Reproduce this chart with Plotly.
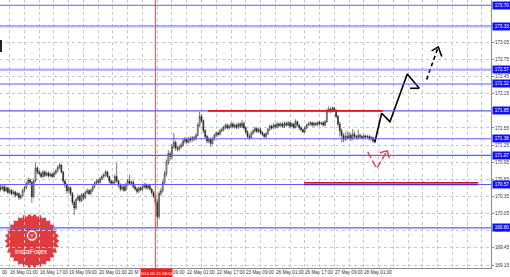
import numpy as np
import plotly.graph_objects as go

# ---------------- data (H1 candles) ----------------
first_open = 170.50
closes = [
    170.48, 170.52, 170.45, 170.50, 170.42, 170.46, 170.40, 170.43, 170.37, 170.40,
    170.33, 170.36, 170.45, 170.50, 170.58, 170.64, 170.60, 170.35, 170.62, 170.85,
    170.78, 170.75, 170.70, 170.78, 170.72, 170.76, 170.71, 170.74, 170.70, 170.76,
    170.80, 170.86, 170.90, 170.78, 170.62, 170.55, 170.45, 170.50, 170.40, 170.25,
    170.15, 170.30, 170.35, 170.28, 170.38, 170.33, 170.42, 170.45, 170.40, 170.46,
    170.52, 170.58, 170.62, 170.60, 170.66, 170.70, 170.73, 170.78, 170.70, 170.62,
    170.58, 170.60, 170.70, 170.62, 170.55, 170.48, 170.52, 170.46, 170.56, 170.62,
    170.58, 170.60, 170.52, 170.48, 170.44, 170.50, 170.47, 170.52, 170.56, 170.50,
    170.54, 170.48, 170.42, 170.36, 170.25, 170.00, 170.40, 170.45, 170.60, 170.75,
    170.95, 171.10, 171.05, 171.22, 171.30, 171.20, 171.18, 171.22, 171.25, 171.32,
    171.35, 171.30, 171.36, 171.34, 171.38, 171.36, 171.42, 171.60, 171.75, 171.68,
    171.50, 171.40, 171.32, 171.35, 171.28, 171.36, 171.42, 171.46, 171.44, 171.50,
    171.52, 171.56, 171.60, 171.55, 171.58, 171.62, 171.57, 171.60, 171.56, 171.62,
    171.58, 171.63, 171.55, 171.48, 171.40, 171.38, 171.46, 171.50, 171.54, 171.49,
    171.52, 171.47, 171.44, 171.40, 171.45, 171.52, 171.58, 171.55, 171.60, 171.57,
    171.62, 171.59, 171.62, 171.58, 171.63, 171.60, 171.64, 171.58, 171.62, 171.56,
    171.66, 171.60, 171.55, 171.52, 171.48, 171.55, 171.60, 171.62, 171.64, 171.60,
    171.63, 171.61, 171.65, 171.62, 171.64, 171.60, 171.66, 171.85, 171.88, 171.84,
    171.90, 171.86, 171.75, 171.62, 171.50, 171.42, 171.35, 171.40, 171.38, 171.42,
    171.36, 171.44, 171.40, 171.38, 171.42, 171.40, 171.38, 171.41, 171.39, 171.40,
    171.36, 171.38, 171.32, 171.33,
]
highs = [
    170.55, 170.56, 170.55, 170.53, 170.52, 170.49, 170.48, 170.46, 170.45, 170.43,
    170.42, 170.39, 170.48, 170.53, 170.61, 170.68, 170.67, 170.62, 170.66, 170.95,
    170.88, 170.81, 170.78, 170.81, 170.81, 170.79, 170.79, 170.77, 170.77, 170.79,
    170.83, 170.89, 170.94, 170.92, 170.80, 170.65, 170.58, 170.53, 170.53, 170.43,
    170.28, 170.33, 170.39, 170.38, 170.41, 170.41, 170.45, 170.49, 170.48, 170.49,
    170.55, 170.61, 170.65, 170.66, 170.69, 170.73, 170.76, 170.81, 170.80, 170.72,
    170.65, 170.63, 170.74, 170.94, 170.65, 170.58, 170.55, 170.55, 170.59, 170.66,
    170.73, 170.63, 170.63, 170.55, 170.51, 170.53, 170.53, 170.55, 170.59, 170.58,
    170.57, 170.57, 170.50, 170.45, 170.40, 170.30, 170.44, 170.50, 170.64, 170.80,
    171.00, 171.16, 171.14, 171.27, 171.46, 171.33, 171.24, 171.26, 171.29, 171.36,
    171.39, 171.38, 171.39, 171.40, 171.41, 171.41, 171.46, 171.64, 171.83, 171.79,
    171.70, 171.53, 171.43, 171.39, 171.38, 171.39, 171.45, 171.49, 171.49, 171.53,
    171.56, 171.59, 171.63, 171.63, 171.61, 171.65, 171.65, 171.63, 171.63, 171.65,
    171.65, 171.69, 171.66, 171.58, 171.51, 171.44, 171.49, 171.53, 171.57, 171.57,
    171.55, 171.55, 171.50, 171.46, 171.48, 171.55, 171.61, 171.61, 171.63, 171.63,
    171.65, 171.65, 171.65, 171.65, 171.66, 171.66, 171.67, 171.66, 171.65, 171.64,
    171.70, 171.68, 171.62, 171.58, 171.54, 171.58, 171.63, 171.65, 171.67, 171.66,
    171.66, 171.65, 171.67, 171.67, 171.66, 171.67, 171.69, 171.89, 171.93, 171.91,
    171.93, 171.92, 171.88, 171.78, 171.66, 171.54, 171.46, 171.47, 171.50, 171.48,
    171.46, 171.53, 171.49, 171.43, 171.52, 171.45, 171.43, 171.44, 171.43, 171.43,
    171.43, 171.41, 171.40, 171.37,
]
lows = [
    170.44, 170.46, 170.42, 170.43, 170.39, 170.40, 170.37, 170.38, 170.33, 170.35,
    170.29, 170.30, 170.34, 170.43, 170.48, 170.55, 170.57, 170.24, 170.32, 170.60,
    170.74, 170.72, 170.67, 170.68, 170.69, 170.70, 170.68, 170.69, 170.67, 170.68,
    170.73, 170.77, 170.83, 170.75, 170.58, 170.50, 170.40, 170.42, 170.36, 170.20,
    170.03, 170.12, 170.27, 170.24, 170.25, 170.29, 170.30, 170.39, 170.37, 170.38,
    170.43, 170.49, 170.55, 170.57, 170.57, 170.63, 170.67, 170.70, 170.67, 170.58,
    170.55, 170.55, 170.57, 170.59, 170.51, 170.44, 170.45, 170.43, 170.44, 170.53,
    170.55, 170.55, 170.49, 170.45, 170.40, 170.41, 170.44, 170.44, 170.49, 170.47,
    170.47, 170.45, 170.38, 170.32, 170.20, 169.80, 169.95, 170.36, 170.42, 170.56,
    170.70, 170.90, 170.98, 171.00, 171.18, 171.15, 171.14, 171.15, 171.19, 171.22,
    171.28, 171.27, 171.28, 171.30, 171.31, 171.32, 171.33, 171.40, 171.57, 171.64,
    171.46, 171.36, 171.28, 171.28, 171.22, 171.26, 171.33, 171.39, 171.40, 171.42,
    171.47, 171.49, 171.53, 171.52, 171.52, 171.55, 171.54, 171.54, 171.53, 171.53,
    171.55, 171.55, 171.52, 171.45, 171.37, 171.34, 171.36, 171.43, 171.47, 171.46,
    171.46, 171.44, 171.41, 171.37, 171.37, 171.43, 171.50, 171.52, 171.53, 171.54,
    171.54, 171.56, 171.56, 171.55, 171.55, 171.57, 171.58, 171.55, 171.56, 171.53,
    171.54, 171.57, 171.51, 171.49, 171.46, 171.46, 171.53, 171.58, 171.59, 171.57,
    171.57, 171.58, 171.58, 171.59, 171.60, 171.57, 171.58, 171.64, 171.82, 171.81,
    171.82, 171.83, 171.72, 171.58, 171.40, 171.30, 171.30, 171.32, 171.34, 171.35,
    171.32, 171.34, 171.37, 171.35, 171.35, 171.37, 171.35, 171.36, 171.36, 171.37,
    171.33, 171.33, 171.29, 171.28,
]
bars = list(range(len(closes)))
opens = [first_open] + closes[:-1]

# price axis tick labels (those fully hidden under highlighted level labels are left out)
y_ticks = [169.15, 169.45, 169.75, 170.05, 170.35, 170.65, 170.95, 171.25,
           171.55, 172.15, 172.45, 172.75, 173.05, 173.35]

# time axis labels: visible text, bar index of the label's tick, anchor side
x_label_text = ["00", "16 May 01:00", "16 May 17:00", "19 May 09:00",
                "20 May 01:00", "20 M", "09:00", "22 May 01:00",
                "22 May 17:00", "23 May 09:00", "26 May 01:00", "26 May 17:00",
                "27 May 09:00", "28 May 01:00"]
x_label_bars = [-11, 5, 21, 37, 53, 69, 85, 101, 117, 133, 149, 165, 181, 197]
x_label_anchor = ["end", "left", "left", "left", "left", "left", "end", "left",
                  "left", "left", "left", "left", "left", "left"]

# horizontal levels (blue) and their labels
level_prices = [173.70, 173.33, 172.57, 172.32, 171.85, 171.36, 171.07, 170.56, 169.80]
level_text = ["173.70", "173.33", "172.57", "172.32", "171.85", "171.36", "171.07", "170.57", "169.80"]
level_heavy = [False, True, True, False, False, False, False, False, False]

# resistance (red) and support (red over blue) segments
resist_price = 171.85
resist_bars = [112.5, 207.4]
support_price = 170.59
support_bars = [164.6, 258.9]

# marked time (red vertical)
marker_bar = 84
marker_text = "2014.05.21 08:00"

# forecast path (black)
proj_bars = [203.0, 206.7, 211.2, 220.6, 227.1]
proj_prices = [171.30, 171.807, 171.66, 172.495, 172.245]
proj_head_bars = [222.1, 227.1]
proj_head_prices = [172.245, 172.245]
proj2_bars = [231.1, 237.4]
proj2_prices = [172.40, 172.97]
proj2_head_bars = [233.8, 237.4, 239.3]
proj2_head_prices = [172.90, 172.97, 172.80]

# alternative (red dashed)
alt_bars = [199.1, 204.0, 209.8]
alt_prices = [171.134, 170.84, 171.15]
alt_head_bars = [205.8, 209.8, 210.8]
alt_head_prices = [171.12, 171.15, 171.02]

# ---------------- layout geometry ----------------
W, H = 510, 277
ML, MR, MT, MB = 0, 19, 0, 9
PW, PH = W - ML - MR, H - MT - MB
px_per_bar = 1.844
x_min = -0.27
x_max = x_min + PW / px_per_bar
y_min, y_max = 169.0975, 173.791

FONT = "Liberation Sans"


def px2paper(x, y):
    return x / PW, 1 - y / PH


def bar2paper(b):
    return (b - x_min) / (x_max - x_min)


fig = go.Figure()

fig.add_trace(go.Candlestick(
    x=bars, open=opens, high=highs, low=lows, close=closes,
    increasing=dict(line=dict(color="#1a1a1a", width=0.6), fillcolor="#ffffff"),
    decreasing=dict(line=dict(color="#1a1a1a", width=0.6), fillcolor="#1a1a1a"),
    whiskerwidth=0, showlegend=False, hoverinfo="skip",
))

shapes = []

# logo (badge)
n_teeth = 30
cx, cy = 32, 241
ang = np.linspace(0, 2 * np.pi, 2 * n_teeth, endpoint=False)
rad = np.where(np.arange(2 * n_teeth) % 2 == 0, 27.5, 24.5)
pts = [px2paper(cx + r * np.cos(a), cy + r * np.sin(a)) for a, r in zip(ang, rad)]
path = "M " + " L ".join(f"{x:.5f},{y:.5f}" for x, y in pts) + " Z"
shapes.append(dict(type="path", path=path, xref="paper", yref="paper",
                   fillcolor="#e23b3f", line=dict(width=0), layer="between"))
x0, y0 = px2paper(cx - 4.5, cy - 10)
x1, y1 = px2paper(cx + 4.5, cy - 1)
shapes.append(dict(type="circle", xref="paper", yref="paper", x0=x0, x1=x1, y0=y1, y1=y0,
                   line=dict(color="white", width=1.3), fillcolor="rgba(0,0,0,0)", layer="between"))

# small cut-off mark on the left edge
mx0, my0 = px2paper(1, 40)
mx1, my1 = px2paper(1, 52)
shapes.append(dict(type="line", xref="paper", yref="paper", x0=mx0, x1=mx1, y0=my0, y1=my1,
                   line=dict(color="#222222", width=2), layer="above"))

# horizontal levels
for p, heavy in zip(level_prices, level_heavy):
    shapes.append(dict(type="line", xref="paper", yref="y", x0=0, x1=1, y0=p, y1=p,
                       line=dict(color="rgba(120,120,255,0.55)" if heavy else "#5c5cff",
                                 width=2.5 if heavy else 1.1), layer="above"))

# resistance
shapes.append(dict(type="line", xref="x", yref="y", x0=resist_bars[0], x1=resist_bars[1],
                   y0=resist_price, y1=resist_price, line=dict(color="#e0141e", width=1.6), layer="above"))
# support
shapes.append(dict(type="line", xref="x", yref="y", x0=support_bars[0], x1=support_bars[1],
                   y0=support_price, y1=support_price, line=dict(color="#c81030", width=1.6), layer="above"))
shapes.append(dict(type="line", xref="x", yref="y", x0=support_bars[0], x1=support_bars[1],
                   y0=level_prices[7], y1=level_prices[7], line=dict(color="#4a2ad0", width=1.6), layer="above"))

# red vertical marker
shapes.append(dict(type="line", xref="x", yref="paper", x0=marker_bar, x1=marker_bar, y0=0, y1=1,
                   line=dict(color="#ff3030", width=0.9), layer="above"))

fig.update_layout(shapes=shapes)

# forecast lines
fig.add_trace(go.Scatter(x=proj_bars, y=proj_prices, mode="lines",
                         line=dict(color="black", width=1.6), showlegend=False, hoverinfo="skip"))
fig.add_trace(go.Scatter(x=proj_head_bars, y=proj_head_prices, mode="lines",
                         line=dict(color="black", width=1.6), showlegend=False, hoverinfo="skip"))
fig.add_trace(go.Scatter(x=proj2_bars, y=proj2_prices, mode="lines",
                         line=dict(color="black", width=1.6, dash="4px,3px"), showlegend=False, hoverinfo="skip"))
fig.add_trace(go.Scatter(x=proj2_head_bars, y=proj2_head_prices, mode="lines",
                         line=dict(color="black", width=1.6), showlegend=False, hoverinfo="skip"))
fig.add_trace(go.Scatter(x=alt_bars, y=alt_prices, mode="lines",
                         line=dict(color="#ff2a3a", width=1.3, dash="7px,3px"), showlegend=False, hoverinfo="skip"))
fig.add_trace(go.Scatter(x=alt_head_bars, y=alt_head_prices, mode="lines",
                         line=dict(color="#ff2a3a", width=1.3), showlegend=False, hoverinfo="skip"))

annotations = []
# x-axis labels
ly = px2paper(0, 272.5)[1]
for t, b, anc in zip(x_label_text, x_label_bars, x_label_anchor):
    if anc == "left":
        annotations.append(dict(text=t, xref="paper", yref="paper", x=bar2paper(b), y=ly,
                                xanchor="left", yanchor="middle", showarrow=False, xshift=-0.5,
                                borderpad=0,
                                font=dict(family=FONT, size=4.6, color="#333333")))
    else:
        # only the tail of this label is visible; place it where the full label would end
        annotations.append(dict(text=t, xref="paper", yref="paper", x=bar2paper(b), y=ly,
                                xanchor="right", yanchor="middle", showarrow=False, xshift=28.5,
                                borderpad=0,
                                font=dict(family=FONT, size=4.6, color="#333333")))
annotations.append(dict(text=marker_text, xref="paper", yref="paper", x=bar2paper(marker_bar), y=ly,
                        xanchor="center", yanchor="middle", showarrow=False, bgcolor="#ff1a1a",
                        width=31, height=8, borderpad=0, xshift=1,
                        font=dict(family=FONT, size=4.4, color="white")))
# highlighted price labels
for t, p in zip(level_text, level_prices):
    annotations.append(dict(text=t, xref="paper", yref="y", x=1, y=p, xanchor="left", yanchor="middle",
                            showarrow=False, bgcolor="#1212f0", width=18, height=7, borderpad=0,
                            xshift=0.5, font=dict(family=FONT, size=4.6, color="white")))
# logo text
lx, lyy = px2paper(cx, 251)
annotations.append(dict(text="InstaForex", xref="paper", yref="paper", x=lx, y=lyy,
                        xanchor="center", yanchor="middle", showarrow=False,
                        font=dict(family=FONT, size=6.8, color="white")))
ix, iy = px2paper(cx, 236.3)
annotations.append(dict(text="Y", xref="paper", yref="paper", x=ix, y=iy,
                        xanchor="center", yanchor="middle", showarrow=False,
                        font=dict(family=FONT, size=6, color="white")))

fig.update_layout(
    annotations=annotations,
    width=W, height=H,
    margin=dict(l=ML, r=MR, t=MT, b=MB, pad=0),
    paper_bgcolor="white", plot_bgcolor="white",
    showlegend=False,
    xaxis=dict(range=[x_min, x_max], rangeslider=dict(visible=False),
               tickvals=list(range(5, 270, 8)), showticklabels=False, ticks="",
               showgrid=True, gridcolor="#c9c9c9", griddash="dot", gridwidth=1,
               showline=True, linecolor="#8a8a8a", linewidth=1, zeroline=False, fixedrange=True),
    yaxis=dict(range=[y_min, y_max], side="right", tickvals=y_ticks,
               ticktext=[f"{v:.2f}" for v in y_ticks], ticks="outside", ticklen=2,
               tickcolor="#8a8a8a", tickfont=dict(family=FONT, size=4.6, color="#333333"),
               showgrid=True, gridcolor="#c9c9c9", griddash="dot", gridwidth=1,
               showline=True, linecolor="#8a8a8a", linewidth=1, zeroline=False, fixedrange=True),
)

fig.write_html("out.html")
